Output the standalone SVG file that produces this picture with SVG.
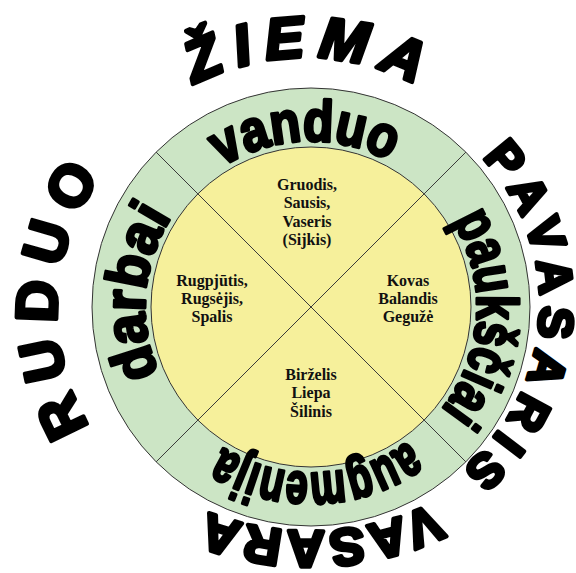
<svg xmlns="http://www.w3.org/2000/svg" width="576" height="573" viewBox="0 0 576 573">
<defs>
<style>
.outer{font-family:"Liberation Sans","Arial",sans-serif;font-weight:bold;fill:#000;stroke:#000;stroke-width:4;stroke-linejoin:round}
.ring{font-family:"Liberation Sans","Arial",sans-serif;font-weight:bold;font-size:58px;fill:#000;stroke:#000;stroke-width:3.2;stroke-linejoin:round}
.month{font-family:"Liberation Serif","Times New Roman",serif;font-weight:bold;font-size:16px;fill:#111;text-anchor:middle}
.div{stroke:#3a3a3a;stroke-width:1;fill:none}
</style>
<path id="pZiema" d="M64.5,298 A240.5,240.5 0 0 1 545.5,298"/>
<path id="pPavasaris" d="M338.5,89.4 A215,215 0 0 1 311.5,518.6"/>
<path id="pVasara" d="M592.8,236.6 A283,283 0 0 1 27.2,259.4"/>
<path id="pRuduo" d="M271.7,534.3 A224.5,224.5 0 0 1 291.3,85.7"/>
<path id="pVanduo" d="M145.1,312.8 A166,166 0 0 1 476.9,301.2"/>
<path id="pPauksciai" d="M321.1,141.3 A166,166 0 0 1 300.9,472.7"/>
<path id="pAugmenija" d="M476.9,301.2 A166,166 0 0 1 145.1,312.8"/>
<path id="pDarbai" d="M297.7,472.5 A166,166 0 0 1 324.3,141.5"/>
</defs>
<rect width="576" height="573" fill="#fff"/>
<g id="wheel">
<circle cx="311" cy="307" r="219" fill="#CCE5C5" stroke="#333" stroke-width="1"/>
<circle cx="311" cy="307" r="160" fill="#F6F09B" stroke="#333" stroke-width="1"/>
</g>
<g id="connectors">
<line class="div" x1="156.1" y1="152.1" x2="465.9" y2="461.9"/>
<line class="div" x1="465.9" y1="152.1" x2="156.1" y2="461.9"/>
</g>
<g id="winter">
<text class="outer" font-size="58" font-style="italic"><textPath href="#pZiema" startOffset="50%" text-anchor="middle" textLength="230" lengthAdjust="spacing">ŽIEMA</textPath></text>
<text class="ring"><textPath href="#pVanduo" startOffset="50%" text-anchor="middle" textLength="176" lengthAdjust="spacingAndGlyphs">vanduo</textPath></text>
<text class="month" x="307" y="190"><tspan x="307">Gruodis,</tspan><tspan x="307" dy="18.4">Sausis,</tspan><tspan x="307" dy="18.4">Vaseris</tspan><tspan x="307" dy="18.4">(Sijkis)</tspan></text>
</g>
<g id="spring">
<text class="outer" font-size="48"><textPath href="#pPavasaris" startOffset="50%" text-anchor="middle" textLength="350" lengthAdjust="spacing">PAVASARIS</textPath></text>
<text class="ring"><textPath href="#pPauksciai" startOffset="50%" text-anchor="middle" textLength="202" lengthAdjust="spacingAndGlyphs">paukščiai</textPath></text>
<text class="month" x="408" y="285.7"><tspan x="408">Kovas</tspan><tspan x="408" dy="18">Balandis</tspan><tspan x="408" dy="18">Gegužė</tspan></text>
</g>
<g id="summer">
<text class="outer" font-size="52"><textPath href="#pVasara" startOffset="50%" text-anchor="middle" textLength="232" lengthAdjust="spacing">VASARA</textPath></text>
<text class="ring"><textPath href="#pAugmenija" startOffset="50%" text-anchor="middle" textLength="197" lengthAdjust="spacingAndGlyphs">augmenija</textPath></text>
<text class="month" x="311" y="380"><tspan x="311">Birželis</tspan><tspan x="311" dy="18.3">Liepa</tspan><tspan x="311" dy="18.3">Šilinis</tspan></text>
</g>
<g id="autumn">
<text class="outer" font-size="58"><textPath href="#pRuduo" startOffset="50%" text-anchor="middle" textLength="265" lengthAdjust="spacing">RUDUO</textPath></text>
<text class="ring"><textPath href="#pDarbai" startOffset="50%" text-anchor="middle" textLength="164" lengthAdjust="spacingAndGlyphs">darbai</textPath></text>
<text class="month" x="212" y="285.7"><tspan x="212">Rugpjūtis,</tspan><tspan x="212" dy="18">Rugsėjis,</tspan><tspan x="212" dy="18">Spalis</tspan></text>
</g>
</svg>
